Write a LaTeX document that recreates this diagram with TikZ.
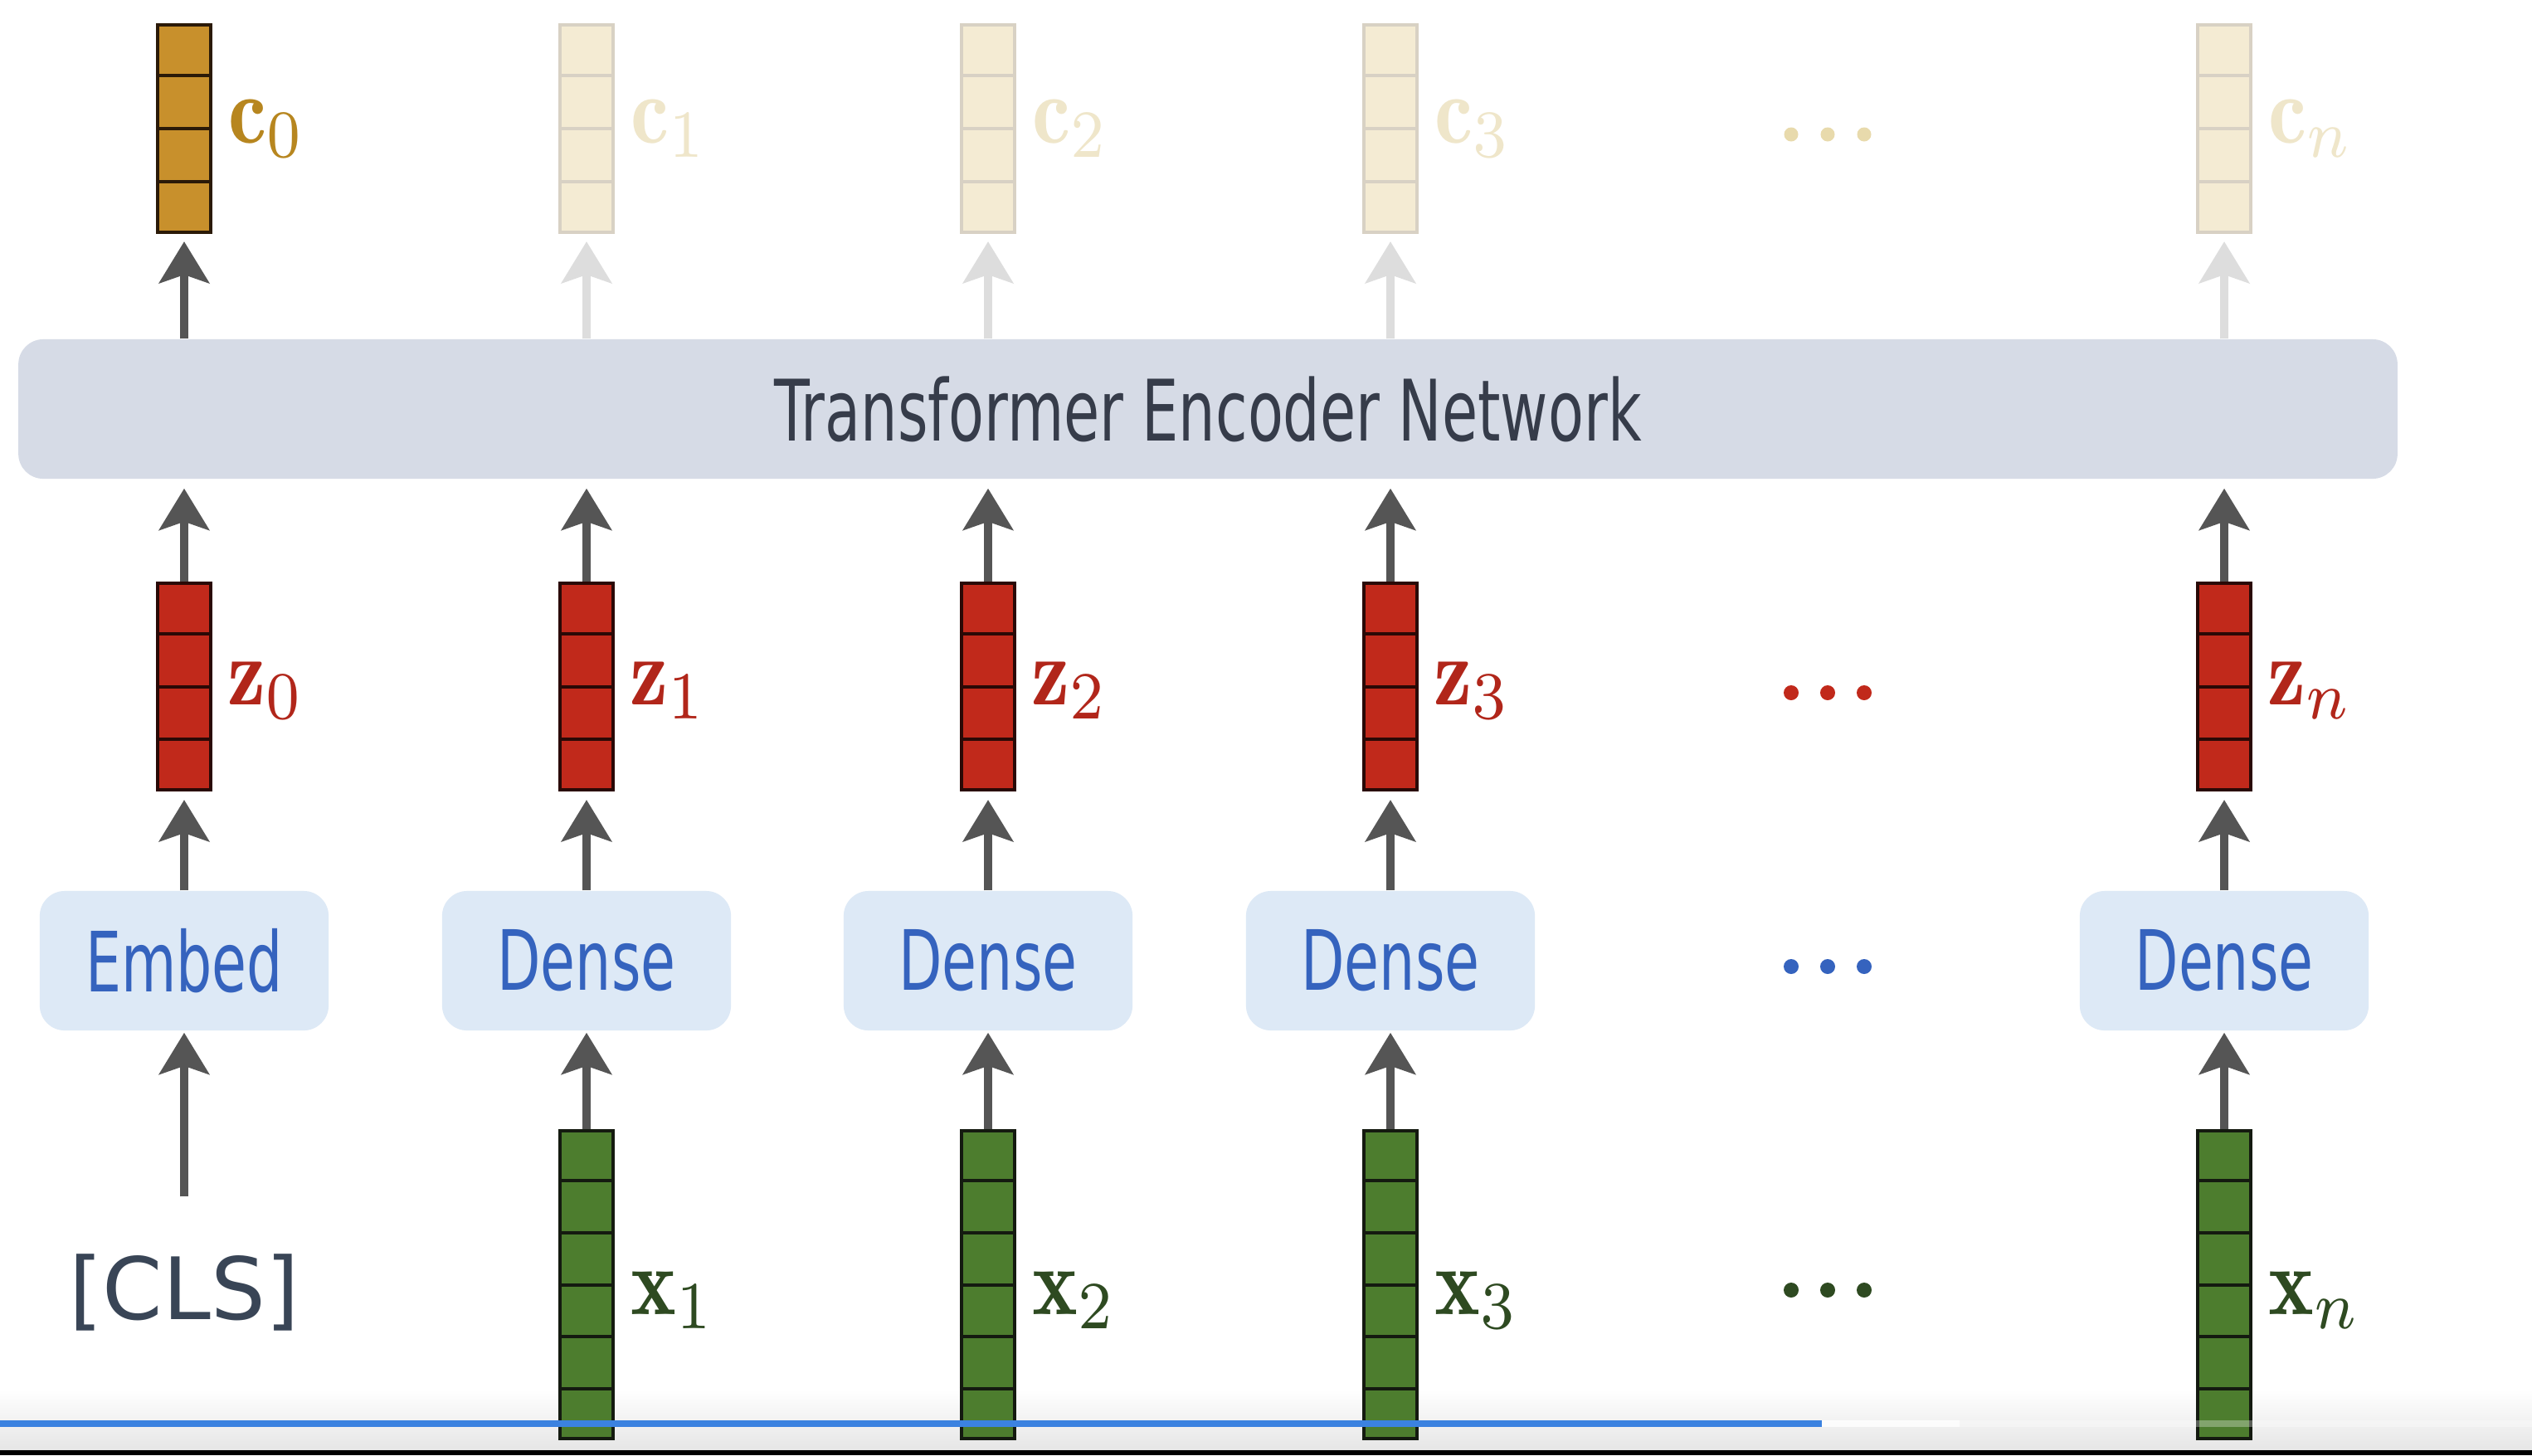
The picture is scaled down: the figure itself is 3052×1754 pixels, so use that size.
\documentclass[tikz,border=0pt]{standalone}
\usepackage{fontspec}
\usepackage{graphicx}
\usetikzlibrary{calc, arrows.meta}

\newfontfamily\boxfont{DejaVu Sans}

\definecolor{goldfill}{HTML}{C8902C}
\definecolor{golddraw}{HTML}{2B1A08}
\definecolor{goldtext}{HTML}{B7861F}
\definecolor{fadefill}{HTML}{F4EBD3}
\definecolor{fadedraw}{HTML}{D8D1C4}
\definecolor{fadetext}{HTML}{EFE6CA}
\definecolor{fadearrow}{HTML}{DDDDDD}
\definecolor{fadedot}{HTML}{E8DAAC}
\definecolor{zfill}{HTML}{C1291B}
\definecolor{zdraw}{HTML}{2A0906}
\definecolor{ztext}{HTML}{B1261A}
\definecolor{xfill}{HTML}{4D7D2E}
\definecolor{xdraw}{HTML}{141A10}
\definecolor{xtext}{HTML}{2E4A21}
\definecolor{tffill}{HTML}{D6DBE6}
\definecolor{tftext}{HTML}{363C4A}
\definecolor{dfill}{HTML}{DDE9F6}
\definecolor{dtext}{HTML}{3563BE}
\definecolor{clstext}{HTML}{394556}
\definecolor{arrowgray}{HTML}{555555}
\definecolor{barblue}{HTML}{3B82E0}

% cell dividers of a vector node: name, number of cells, colour
\newcommand{\vcells}[3]{%
	\pgfmathtruncatemacro{\lastk}{#2-1}
	\foreach \k in {1,...,\lastk} {
		\draw[#3, line width=0.04cm]
		($(#1.north west)!\k/#2!(#1.south west)$) -- ($(#1.north east)!\k/#2!(#1.south east)$);
	}
}
% vector label, squeezed like the slide
\newcommand{\vlab}[1]{\scalebox{2.95}[3.3]{$#1$}}

\begin{document}
\begin{tikzpicture}[x=0.01cm, y=-0.01cm,
	vec/.style={draw, line width=0.04cm, minimum width=0.64cm, inner sep=0pt},
	cvec/.style={vec, fill=goldfill, draw=golddraw, minimum height=2.5cm},
	cfade/.style={vec, fill=fadefill, draw=fadedraw, minimum height=2.5cm},
	zvec/.style={vec, fill=zfill, draw=zdraw, minimum height=2.49cm},
	xvec/.style={vec, fill=xfill, draw=xdraw, minimum height=3.71cm},
	vlabel/.style={anchor=base west, inner sep=0pt},
	layer/.style={fill=dfill, rounded corners=0.3cm, minimum width=3.48cm, minimum height=1.68cm,
		text=dtext, font={\boxfont\fontsize{28.5}{34}\selectfont}},
	tfbox/.style={fill=tffill, rounded corners=0.3cm, minimum width=28.66cm, minimum height=1.68cm,
		text=tftext, font={\boxfont\fontsize{28.5}{34}\selectfont}},
	arr/.style={draw=arrowgray, line width=0.1cm, -{Stealth[length=0.5cm, width=0.6cm, inset=0.1cm]}},
	fadearr/.style={arr, draw=fadearrow}
	]
	
	% --- Constants ---
	\def\ycv{155}
	\def\ytf{493}
	\def\yz{827.5}
	\def\yd{1158}
	\def\yx{1548.5}
	\def\xcls{222}
	\def\xdots{2203}
	
	% background and frame
	\fill[white] (0,0) rectangle (3052,1754);
	\useasboundingbox (0,0) rectangle (3052,1754);
	\shade[top color=white, bottom color=black!10] (0,1675) rectangle (3052,1748);
	
	% =======================================================
	% TRANSFORMER
	% =======================================================
	\node[tfbox] (tf) at (1456,\ytf) {\scalebox{0.7}[1.02]{Transformer Encoder Network}};
	
	% =======================================================
	% CLS COLUMN
	% =======================================================
	\node[cvec] (c0) at (\xcls,\ycv) {};
	\vcells{c0}{4}{golddraw}
	\node[vlabel, text=goldtext] (lc0) at ($(c0.east)+(19,17)$) {\vlab{\mathbf{c}_0}};
	
	\node[zvec] (z0) at (\xcls,\yz) {};
	\vcells{z0}{4}{zdraw}
	\node[vlabel, text=ztext] (lz0) at ($(z0.east)+(18,21.5)$) {\vlab{\mathbf{z}_0}};
	
	\node[layer] (emb) at (\xcls,\yd) {\scalebox{0.68}[1]{Embed}};
	\node[anchor=base, inner sep=0pt, text=clstext, font={\boxfont\fontsize{29.5}{35}\selectfont}]
	(cls) at (\xcls,1590) {[CLS]};
	
	\draw[arr, shorten <=0.68cm, shorten >=0.02cm] (cls.north) -- (emb.south);
	\draw[arr, shorten >=0.1cm] (emb.north) -- (z0.south);
	\draw[arr, shorten >=0.11cm] (z0.north) -- (z0.north |- tf.south);
	\draw[arr, shorten >=0.09cm] (c0.south |- tf.north) -- (c0.south);
	
	% =======================================================
	% TOKEN COLUMNS
	% =======================================================
	\foreach \nm/\cx in {1/707, 2/1191, 3/1676, n/2681} {
		% outputs (faded)
		\node[cfade] (c\nm) at (\cx,\ycv) {};
		\vcells{c\nm}{4}{fadedraw}
		\node[vlabel, text=fadetext] (lc\nm) at ($(c\nm.east)+(19,17)$) {\vlab{\mathbf{c}_\nm}};
		
		% embeddings
		\node[zvec] (z\nm) at (\cx,\yz) {};
		\vcells{z\nm}{4}{zdraw}
		\node[vlabel, text=ztext] (lz\nm) at ($(z\nm.east)+(18,21.5)$) {\vlab{\mathbf{z}_\nm}};
		
		% dense layers
		\node[layer] (d\nm) at (\cx,\yd) {\scalebox{0.68}[1]{Dense}};
		
		% inputs
		\node[xvec] (x\nm) at (\cx,\yx) {};
		\vcells{x\nm}{6}{xdraw}
		\node[vlabel, text=xtext] (lx\nm) at ($(x\nm.east)+(19,35.5)$) {\vlab{\mathbf{x}_\nm}};
		
		% arrows
		\draw[arr, shorten >=0.02cm] (x\nm.north) -- (d\nm.south);
		\draw[arr, shorten >=0.1cm] (d\nm.north) -- (z\nm.south);
		\draw[arr, shorten >=0.11cm] (z\nm.north) -- (z\nm.north |- tf.south);
		\draw[fadearr, shorten >=0.09cm] (c\nm.south |- tf.north) -- (c\nm.south);
	}
	
	% --- dots between column 3 and n ---
	\foreach \dx in {-44, 0, 44} {
		\fill[fadedot] (\xdots+\dx,162) circle (0.085cm);
		\fill[zfill] (\xdots+\dx,835) circle (0.09cm);
		\fill[dtext] (\xdots+\dx,1165) circle (0.09cm);
		\fill[xtext] (\xdots+\dx,1555) circle (0.09cm);
	}
	
	% =======================================================
	% PLAYER BAR
	% =======================================================
	\fill[barblue] (0,1712) rectangle (2196,1720);
	\fill[white, opacity=0.85] (2196,1712) rectangle (2362,1720);
	\fill[white, opacity=0.3] (2362,1712) rectangle (3052,1720);
	\fill[black] (0,1748) rectangle (3052,1754);
	
\end{tikzpicture}
\end{document}
